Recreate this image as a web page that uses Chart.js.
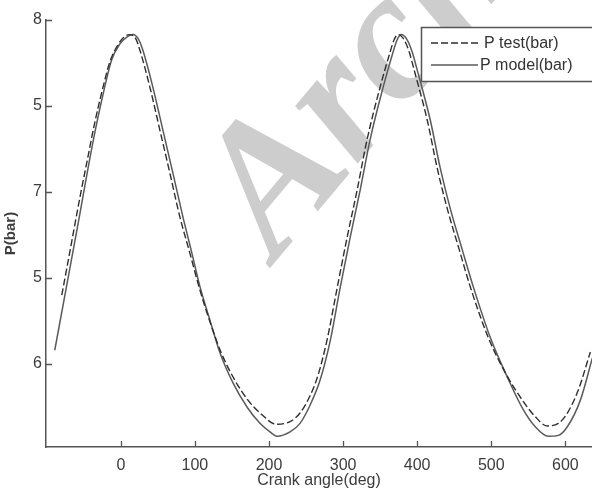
<!DOCTYPE html>
<html>
<head>
<meta charset="utf-8">
<script src="https://cdn.jsdelivr.net/npm/chart.js@4.4.1/dist/chart.umd.min.js"></script>
<style>
html, body { margin: 0; padding: 0; background: #fff; }
canvas { display: block; }
</style>
</head>
<body>
<canvas id="pressureChart" width="592" height="490"></canvas>
<script>
// Measured cylinder pressure
const testAngle = [-79.7, -68.9, -55.4, -44.6, -35.1, -25.7, -14.9, -4.1, 4.1, 12.2, 20.3, 25.7, 39.2, 52.7, 66.2, 79.7, 93.2, 105.4, 120.3, 135.1, 152.7, 171.6, 190.5, 209.5, 228.4, 241.9, 255.4, 266.2, 278.4, 291.9, 305.4, 318.9, 332.4, 350.0, 362.2, 368.9, 374.3, 382.4, 389.2, 395.9, 413.5, 427.0, 440.5, 456.8, 471.6, 495.9, 518.9, 541.9, 558.1, 575.7, 590.5, 601.4, 617.6, 633.8];
const testP = [1.80, 2.30, 2.93, 3.40, 3.81, 4.16, 4.51, 4.71, 4.80, 4.83, 4.78, 4.65, 4.22, 3.72, 3.22, 2.71, 2.29, 1.90, 1.49, 1.14, 0.83, 0.58, 0.41, 0.30, 0.33, 0.43, 0.63, 0.87, 1.28, 1.88, 2.47, 3.02, 3.61, 4.22, 4.59, 4.77, 4.83, 4.77, 4.63, 4.42, 3.84, 3.28, 2.81, 2.33, 1.90, 1.31, 0.90, 0.58, 0.40, 0.28, 0.31, 0.41, 0.70, 1.14];

// Simulated cylinder pressure
const modelAngle = [-89.2, -71.6, -55.4, -44.6, -35.1, -25.7, -12.2, -1.4, 8.1, 16.2, 24.3, 29.7, 43.2, 56.8, 70.3, 83.8, 95.9, 106.8, 120.3, 133.8, 151.4, 170.3, 187.8, 201.4, 210.8, 228.4, 241.9, 255.4, 268.9, 282.4, 295.9, 309.5, 323.0, 336.5, 354.1, 366.2, 373.0, 378.4, 386.5, 393.2, 400.0, 417.6, 431.1, 444.6, 460.8, 475.7, 498.6, 521.6, 543.2, 559.5, 577.0, 590.5, 602.7, 620.3, 636.5];
const modelP = [1.16, 1.98, 2.74, 3.26, 3.69, 4.07, 4.54, 4.72, 4.80, 4.83, 4.77, 4.65, 4.22, 3.72, 3.22, 2.71, 2.29, 1.90, 1.51, 1.13, 0.78, 0.50, 0.31, 0.21, 0.16, 0.21, 0.31, 0.52, 0.81, 1.26, 1.88, 2.47, 3.02, 3.61, 4.22, 4.59, 4.77, 4.83, 4.77, 4.63, 4.42, 3.84, 3.28, 2.81, 2.33, 1.90, 1.31, 0.85, 0.47, 0.27, 0.16, 0.17, 0.27, 0.58, 1.07];

const xTicks = [0, 100, 200, 300, 400, 500, 600];
const yTicks = [1, 2, 3, 4, 5];
const yTickLabels = ['6', '5', '7', '5', '8'];

const toPoints = (xs, ys) => xs.map((x, i) => ({ x: x, y: ys[i] }));

Chart.defaults.font.family = '"Liberation Sans", Arial, sans-serif';
Chart.defaults.color = '#3c3c3c';

// faint diagonal stamp behind the curves
const stampPlugin = {
	id: 'stamp',
	beforeDatasetsDraw(chart) {
		const c = chart.ctx;
		c.save();
		c.translate(276, 261);
		c.rotate(-50 * Math.PI / 180);
		c.font = 'bold italic 185px "Liberation Serif", serif';
		c.fillStyle = '#cdcdcd';
		c.fillText('Archive', 0, 0);
		c.restore();
	}
};

// short tick marks pointing into the plot
const innerTicks = {
	id: 'innerTicks',
	afterDatasetsDraw(chart) {
		const c = chart.ctx;
		const { x, y } = chart.scales;
		const area = chart.chartArea;
		c.save();
		c.strokeStyle = '#555';
		c.lineWidth = 1.3;
		c.beginPath();
		xTicks.forEach(v => {
			const px = Math.round(x.getPixelForValue(v)) + 0.5;
			c.moveTo(px, area.bottom);
			c.lineTo(px, area.bottom - 6);
		});
		yTicks.forEach(v => {
			const py = Math.round(y.getPixelForValue(v)) + 0.5;
			c.moveTo(area.left, py);
			c.lineTo(area.left + 6, py);
		});
		c.stroke();
		c.restore();
	}
};

// boxed legend in the upper right corner
const boxLegend = {
	id: 'boxLegend',
	afterDraw(chart) {
		const c = chart.ctx;
		const sets = chart.data.datasets;
		c.save();
		c.fillStyle = '#fff';
		c.fillRect(421, 27, 180, 54);
		c.strokeStyle = '#555';
		c.lineWidth = 1.5;
		c.strokeRect(421.5, 27.5, 180, 54);
		c.font = '16px "Liberation Sans", Arial, sans-serif';
		c.textBaseline = 'middle';
		sets.forEach((ds, i) => {
			const ly = 43 + i * 22;
			c.strokeStyle = ds.borderColor;
			c.lineWidth = ds.borderWidth;
			c.setLineDash(ds.borderDash || []);
			c.beginPath();
			c.moveTo(431, ly);
			c.lineTo(i === 0 ? 479 : 478, ly);
			c.stroke();
			c.setLineDash([]);
			c.fillStyle = '#333';
			c.fillText(ds.label, i === 0 ? 484 : 480, ly + 1);
		});
		c.restore();
	}
};

new Chart(document.getElementById('pressureChart'), {
	type: 'line',
	data: {
		datasets: [
			{
				label: 'P test(bar)',
				data: toPoints(testAngle, testP),
				borderColor: '#2e2e2e',
				borderWidth: 1.4,
				borderDash: [7, 3],
				pointRadius: 0,
				cubicInterpolationMode: 'monotone'
			},
			{
				label: 'P model(bar)',
				data: toPoints(modelAngle, modelP),
				borderColor: '#5a5a5a',
				borderWidth: 1.5,
				pointRadius: 0,
				cubicInterpolationMode: 'monotone'
			}
		]
	},
	options: {
		responsive: false,
		animation: false,
		layout: { padding: { top: 20, right: 0, bottom: 0, left: 0 } },
		plugins: {
			legend: { display: false },
			tooltip: { enabled: false }
		},
		scales: {
			x: {
				type: 'linear',
				min: -101,
				max: 636,
				afterFit: s => { s.height = 43; },
				afterBuildTicks: s => { s.ticks = xTicks.map(v => ({ value: v })); },
				grid: { drawOnChartArea: false, drawTicks: false },
				border: { color: '#555', width: 1.5 },
				ticks: { padding: 9, font: { size: 16 }, maxRotation: 0 },
				title: {
					display: true,
					text: 'Crank angle(deg)',
					font: { size: 16 },
					padding: { top: 0, bottom: 0 }
				}
			},
			y: {
				type: 'linear',
				min: 0.035,
				max: 5,
				afterFit: s => { s.width = 46; },
				afterBuildTicks: s => { s.ticks = yTicks.map(v => ({ value: v })); },
				grid: { drawOnChartArea: false, drawTicks: false },
				border: { color: '#555', width: 1.5 },
				ticks: {
					padding: 4,
					font: { size: 16 },
					callback: v => yTickLabels[yTicks.indexOf(v)]
				},
				title: {
					display: true,
					text: 'P(bar)',
					font: { size: 15, weight: 'bold' },
					padding: { top: 2, bottom: 0 }
				}
			}
		}
	},
	plugins: [stampPlugin, innerTicks, boxLegend]
});
</script>
</body>
</html>
